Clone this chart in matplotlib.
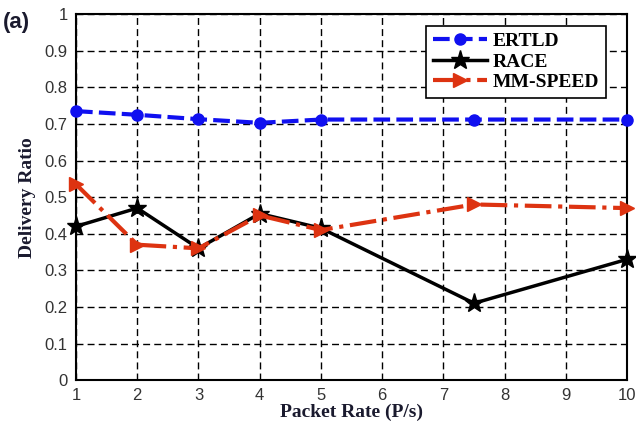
import numpy as np
import matplotlib.pyplot as plt

rate = [1, 2, 3, 4, 5, 7.5, 10]
ertld = [0.735, 0.725, 0.713, 0.703, 0.712, 0.712, 0.712]
race = [0.42, 0.47, 0.36, 0.455, 0.415, 0.21, 0.33]
mmspeed = [0.535, 0.37, 0.36, 0.45, 0.41, 0.48, 0.47]

fig = plt.figure(figsize=(6.36, 4.29), dpi=100)
ax = fig.add_axes([0.1195, 0.114, 0.8665, 0.853])

ax.plot(rate, ertld, color='#1010f0', ls='--', lw=3, marker='o', ms=8,
        dashes=(4, 1.5), label='ERTLD', clip_on=False, zorder=4)
ax.plot(rate, race, color='black', ls='-', lw=2.5, marker='*', ms=14,
        label='RACE', clip_on=False, zorder=3)
ax.plot(rate, mmspeed, color='#dd3311', ls='-.', lw=3, marker='>', ms=10,
        label='MM-SPEED', clip_on=False, zorder=3)

ax.set_xlim(1, 10)
ax.set_ylim(0, 1)
ax.set_xticks(range(1, 11))
ax.set_yticks(np.arange(0, 1.01, 0.1))
ax.set_yticklabels(['0', '0.1', '0.2', '0.3', '0.4', '0.5', '0.6', '0.7', '0.8', '0.9', '1'])
ax.grid(True, color='black', ls=(0, (5, 3)), lw=1)
for s in ax.spines.values():
    s.set_linewidth(1.5)
ax.tick_params(direction='in', length=0, labelsize=12, pad=6)
for t in ax.get_xticklabels() + ax.get_yticklabels():
    t.set_family('Liberation Sans')
    t.set_color('#333333')

ax.set_xlabel('Packet Rate (P/s)', family='Liberation Serif', fontweight='bold',
              fontsize=14, color='#1a1a2e', labelpad=0)
ax.set_ylabel('Delivery Ratio', family='Liberation Serif', fontweight='bold',
              fontsize=14, color='#1a1a2e', labelpad=6)

leg = ax.legend(loc='upper right', bbox_to_anchor=(0.98, 0.995), fancybox=False,
                edgecolor='black', framealpha=1, handlelength=2.8,
                borderpad=0.35, labelspacing=0.15, handletextpad=0.3,
                prop={'family': 'Liberation Serif', 'weight': 'bold', 'size': 14})
leg.get_frame().set_linewidth(1.2)
leg.set_zorder(5)

fig.text(0.005, 0.935, '(a)', family='Liberation Sans', fontweight='bold',
         fontsize=16, color='#1a1a2e')

fig.savefig('out.png', dpi=100)
